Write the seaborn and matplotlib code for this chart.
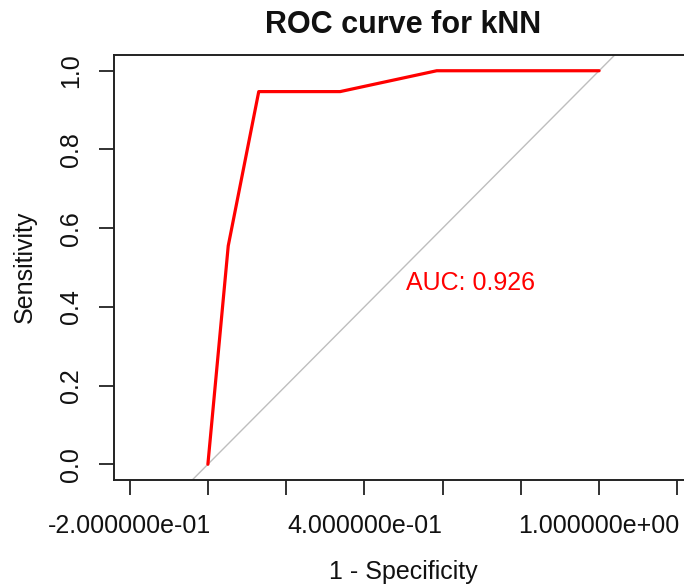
import matplotlib
matplotlib.use("Agg")
import matplotlib.pyplot as plt
import seaborn as sns
import pandas as pd

# ROC operating points for the kNN classifier
fpr = [0.0, 0.052, 0.130, 0.338, 0.585, 1.0]
tpr = [0.0, 0.555, 0.947, 0.947, 1.0, 1.0]
auc_value = 0.926

x_ticks = [-0.2, 0.0, 0.2, 0.4, 0.6, 0.8, 1.0, 1.2]
x_tick_labels = ["-2.000000e-01", "", "", "4.000000e-01", "", "", "1.000000e+00", ""]
y_ticks = [0.0, 0.2, 0.4, 0.6, 0.8, 1.0]
y_tick_labels = ["0.0", "0.2", "0.4", "0.6", "0.8", "1.0"]

sns.set_theme(style="white")
plt.rcParams["font.family"] = ["Liberation Sans", "DejaVu Sans"]

W, H = 684, 588
fig = plt.figure(figsize=(W / 100, H / 100), dpi=100)
ax = fig.add_axes([114 / W, 1 - 480 / H, (693 - 114) / W, (480 - 55) / H])

df = pd.DataFrame({"fpr": fpr, "tpr": tpr})

# chance diagonal
ax.plot([-1, 2], [-1, 2], color="#bebebe", lw=1.0, zorder=1)
sns.lineplot(data=df, x="fpr", y="tpr", sort=False, color="red", lw=2.3,
             ax=ax, zorder=3)

ax.text(0.67, 0.46, f"AUC: {auc_value:.3f}", color="red", fontsize=18,
        ha="center", va="center")

ax.set_xlim(-0.24, 1.24)
ax.set_ylim(-0.04, 1.04)
ax.set_xticks(x_ticks)
ax.set_xticklabels(x_tick_labels)
ax.set_yticks(y_ticks)
ax.set_yticklabels(y_tick_labels, rotation=90, va="center")
ax.tick_params(axis="both", direction="out", length=11, width=1.3,
               color="#222222", labelsize=18, labelcolor="#111111",
               bottom=True, left=True)
ax.tick_params(axis="x", pad=13.5)
ax.tick_params(axis="y", pad=11)
for s in ax.spines.values():
    s.set_visible(True)
    s.set_color("#222222")
    s.set_linewidth(1.4)
ax.set_xlabel("")
ax.set_ylabel("")
ax.grid(False)

fig.text(403 / W, 1 - 25 / H, "ROC curve for kNN", fontsize=22,
         fontweight="bold", ha="center", va="center", color="#111111")
fig.text(403 / W, 1 - 572 / H, "1 - Specificity", fontsize=18,
         ha="center", va="center", color="#111111")
fig.text(25 / W, 1 - 267 / H, "Sensitivity", fontsize=18, rotation=90,
         ha="center", va="center", color="#111111")

fig.savefig("out.png", dpi=100, facecolor="white")
